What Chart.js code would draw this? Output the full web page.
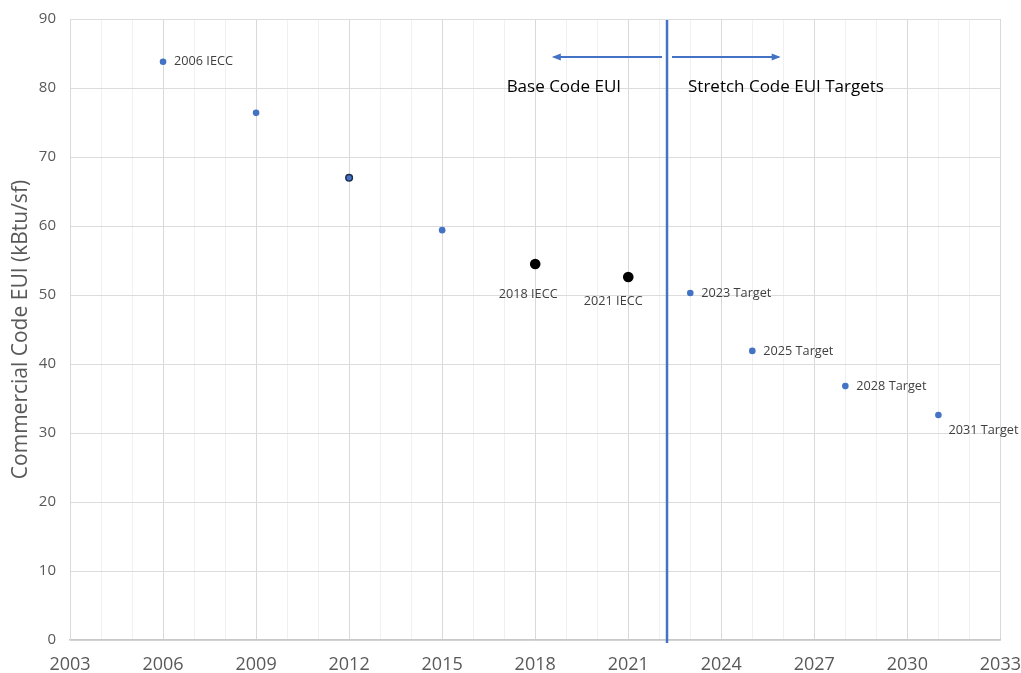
<!DOCTYPE html>
<html>
<head>
<meta charset="utf-8">
<script src="https://cdn.jsdelivr.net/npm/chart.js@4.4.1/dist/chart.umd.min.js"></script>
<style>
  html, body { margin: 0; padding: 0; background: #ffffff; }
  #wrap { width: 1021px; height: 673px; position: relative; }
</style>
</head>
<body>
<div id="wrap"><canvas id="c"></canvas></div>
<script>
// Code years and commercial energy use intensity (kBtu/sf)
const baseYears   = [2006, 2009, 2012, 2015];
const baseEUI     = [83.8, 76.4, 67.0, 59.4];
const iecYears    = [2018, 2021];
const iecEUI      = [54.5, 52.6];
const targetYears = [2023, 2025, 2028, 2031];
const targetEUI   = [50.3, 41.9, 36.8, 32.6];

// Point labels, keyed by year
const pointLabels = {
  2006: '2006 IECC',
  2018: '2018 IECC',
  2021: '2021 IECC',
  2023: '2023 Target',
  2025: '2025 Target',
  2028: '2028 Target',
  2031: '2031 Target'
};

// Divider between base code and stretch code, plus arrow annotations
const dividerYear = 2022.25;
const arrowLevel = 84.5;
const captionLevel = 80.1;
const arrowLeftEnd = 2018.6;
const arrowRightEnd = 2025.85;
const baseCaption = 'Base Code EUI';
const stretchCaption = 'Stretch Code EUI Targets';

const xMin = 2003, xMax = 2033;
const yMin = 0, yMax = 90;

const BLUE = '#4472C4';

function toPoints(xs, ys) { return xs.map((x, i) => ({ x: x, y: ys[i] })); }

const basePts = toPoints(baseYears, baseEUI);

const annotationPlugin = {
  id: 'euiAnnotations',
  afterDatasetsDraw(chart) {
    const ctx = chart.ctx;
    const xs = chart.scales.x, ys = chart.scales.y;
    ctx.save();

    // vertical divider
    const dx = xs.getPixelForValue(dividerYear);
    ctx.strokeStyle = BLUE;
    ctx.lineWidth = 2.5;
    ctx.beginPath();
    ctx.moveTo(dx, ys.getPixelForValue(yMax) + 1);
    ctx.lineTo(dx, ys.getPixelForValue(yMin) + 3);
    ctx.stroke();

    // arrows
    const ay = ys.getPixelForValue(arrowLevel);
    const drawArrow = (x0, x1) => {
      ctx.strokeStyle = BLUE;
      ctx.fillStyle = BLUE;
      ctx.lineWidth = 2;
      ctx.beginPath();
      ctx.moveTo(x0, ay);
      ctx.lineTo(x1, ay);
      ctx.stroke();
      const dir = x1 > x0 ? 1 : -1;
      ctx.beginPath();
      ctx.moveTo(x1 + dir * 2, ay);
      ctx.lineTo(x1 - dir * 7, ay - 3.5);
      ctx.lineTo(x1 - dir * 7, ay + 3.5);
      ctx.closePath();
      ctx.fill();
    };
    drawArrow(dx - 5, xs.getPixelForValue(arrowLeftEnd));
    drawArrow(dx + 5, xs.getPixelForValue(arrowRightEnd));

    // captions
    ctx.fillStyle = '#000000';
    ctx.font = '17px "Open Sans", sans-serif';
    ctx.textBaseline = 'middle';
    ctx.textAlign = 'right';
    const cy = ys.getPixelForValue(captionLevel);
    ctx.fillText(baseCaption, dx - 46, cy);
    ctx.textAlign = 'left';
    ctx.fillText(stretchCaption, dx + 21, cy);

    // point labels
    ctx.fillStyle = '#404040';
    ctx.font = '12.7px "Open Sans", sans-serif';
    chart.data.datasets.forEach((ds) => {
      ds.data.forEach((p) => {
        const text = pointLabels[p.x];
        if (!text) return;
        const px = xs.getPixelForValue(p.x), py = ys.getPixelForValue(p.y);
        if (p.x === 2018) {
          ctx.textAlign = 'center';
          ctx.fillText(text, px - 7, py + 30);
        } else if (p.x === 2021) {
          ctx.textAlign = 'center';
          ctx.fillText(text, px - 15, py + 24);
        } else if (p.x === 2031) {
          ctx.textAlign = 'left';
          ctx.fillText(text, px + 10, py + 15);
        } else {
          ctx.textAlign = 'left';
          ctx.fillText(text, px + 11, py);
        }
      });
    });
    ctx.restore();
  }
};

new Chart(document.getElementById('c'), {
  type: 'scatter',
  data: {
    datasets: [
      {
        data: basePts,
        backgroundColor: BLUE,
        borderColor: basePts.map(p => p.x === 2012 ? '#1F2D50' : BLUE),
        borderWidth: basePts.map(p => p.x === 2012 ? 1.5 : 0),
        pointRadius: 3.3
      },
      {
        data: toPoints(iecYears, iecEUI),
        backgroundColor: '#000000',
        borderColor: '#000000',
        borderWidth: 0,
        pointRadius: 5.3
      },
      {
        data: toPoints(targetYears, targetEUI),
        backgroundColor: BLUE,
        borderColor: BLUE,
        borderWidth: 0,
        pointRadius: 3.3
      }
    ]
  },
  options: {
    responsive: true,
    maintainAspectRatio: false,
    animation: false,
    layout: { padding: { top: 6, right: 0, bottom: 0, left: 0 } },
    plugins: { legend: { display: false }, tooltip: { enabled: false } },
    scales: {
      x: {
        type: 'linear',
        min: xMin,
        max: xMax,
        ticks: {
          stepSize: 1,
          autoSkip: false,
          maxRotation: 0,
          color: '#595959',
          // tall line box drops the labels below the axis without extra tick padding
          font: { family: '"Open Sans", sans-serif', size: 18, lineHeight: 2.75 },
          padding: 0,
          callback: (v) => ((v - xMin) % 3 === 0 ? String(v) : '')
        },
        grid: {
          drawTicks: false,
          color: (c) => {
            const v = c.tick ? c.tick.value : 0;
            return (v - xMin) % 3 === 0 ? '#d9d9d9' : '#f0f0f0';
          },
          lineWidth: 1
        },
        border: { color: '#c8c8c8', width: 1.5 },
        afterFit: (s) => { s.height = 33; }
      },
      y: {
        min: yMin,
        max: yMax,
        ticks: {
          stepSize: 10,
          color: '#595959',
          font: { family: '"Open Sans", sans-serif', size: 15, lineHeight: 0.667 },
          padding: 14
        },
        grid: { drawTicks: false, color: '#dcdcdc' },
        border: { color: '#d9d9d9' },
        title: {
          display: true,
          text: 'Commercial Code EUI (kBtu/sf)',
          color: '#595959',
          font: { family: '"Open Sans", sans-serif', size: 21 },
          padding: { top: 8, bottom: 0 }
        },
        afterFit: (s) => { s.width = 70; }
      }
    }
  },
  plugins: [annotationPlugin]
});
</script>
</body>
</html>
